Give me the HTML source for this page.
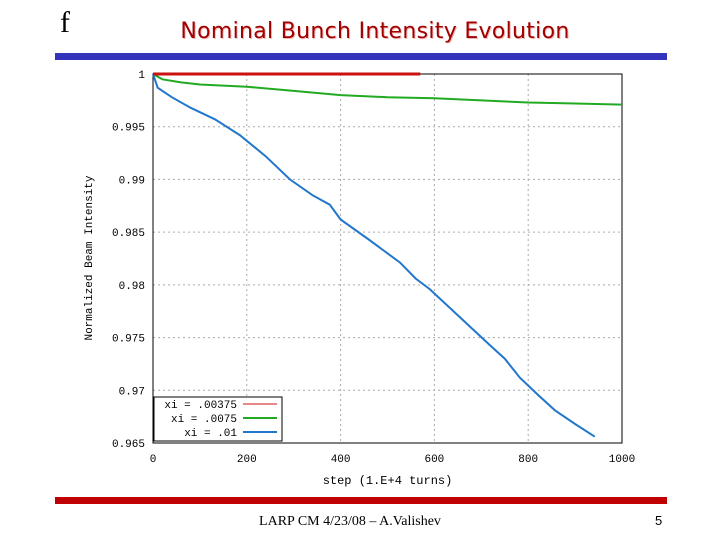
<!DOCTYPE html>
<html><head><meta charset="utf-8"><style>
body{margin:0;background:#fff;width:720px;height:540px;overflow:hidden;position:relative;font-family:"Liberation Sans",sans-serif}
.abs{position:absolute}
</style></head><body>
<div class="abs" style="left:60px;top:6px;font:30px 'Liberation Serif',serif;">f</div>
<div class="abs" style="left:150px;width:450px;top:19px;text-align:center;font:22px 'DejaVu Sans',sans-serif;color:#a00000;text-shadow:1px 1px 0 #f4b8b8;letter-spacing:0.3px">Nominal Bunch Intensity Evolution</div>
<div class="abs" style="left:55px;top:53px;width:612px;height:7px;background:#3333bb"></div>
<div class="abs" style="left:55px;top:497px;width:612px;height:7px;background:#c00000"></div>
<div class="abs" style="left:200px;width:300px;top:514px;text-align:center;font:14px 'Liberation Serif',serif;">LARP CM 4/23/08 – A.Valishev</div>
<div class="abs" style="left:655px;top:513px;font:13px 'Liberation Sans',sans-serif;">5</div>
<svg class="abs" style="left:0;top:0" width="720" height="540" id="chart"></svg>
<script>
const xTicks=[0,200,400,600,800,1000];
const yTicks=[1,0.995,0.99,0.985,0.98,0.975,0.97,0.965];
const yTickLabels=["1","0.995","0.99","0.985","0.98","0.975","0.97","0.965"];
const redSteps=[0,570];
const redVals=[1,1];
const greenSteps=[0,20,60,100,200,300,400,500,600,700,800,900,1000];
const greenVals=[1,0.9995,0.9992,0.999,0.9988,0.9984,0.9980,0.9978,0.9977,0.9975,0.9973,0.9972,0.9971];
const blueSteps=[0,10,40,80,132,185,240,292,340,377,400,460,527,560,590,650,718,750,782,820,857,900,942];
const blueVals=[1,0.9987,0.9978,0.9968,0.9957,0.9942,0.9922,0.990,0.9885,0.9876,0.9862,0.9843,0.9821,0.9806,0.9796,0.9771,0.9743,0.9730,0.9712,0.9696,0.9681,0.9668,0.9656];
const legendLabels=["xi = .00375","xi = .0075","xi = .01"];
const X0=153,X1=622,Y0=74,Y1=443;
const sx=v=>X0+(v-0)/(1000-0)*(X1-X0);
const sy=v=>Y0+(1-v)/(1-0.965)*(Y1-Y0);
const svg=document.getElementById('chart');
const NS='http://www.w3.org/2000/svg';
function mk(t,a,txt){const e=document.createElementNS(NS,t);for(const k in a)e.setAttribute(k,a[k]);if(txt!==undefined)e.textContent=txt;svg.appendChild(e);return e;}
const F='"Liberation Mono",monospace';
xTicks.forEach(v=>{const x=sx(v);
 if(v>0&&v<1000){const g=mk('line',{x1:x,y1:Y0,x2:x,y2:Y1,stroke:'#aaa','stroke-dasharray':'2,3'});
 }
 const t=mk('text',{x:x,y:Y1+19,'text-anchor':'middle','font-size':11,'font-family':F},String(v));
 });
yTicks.forEach((v,i)=>{const y=sy(v);
 if(i>0&&i<yTicks.length-1){const g=mk('line',{x1:X0,y1:y,x2:X1,y2:y,stroke:'#aaa','stroke-dasharray':'2,3'});
 }
 const t=mk('text',{x:X0-8,y:y+4,'text-anchor':'end','font-size':11,'font-family':F},yTickLabels[i]);
 });
const fr=mk('rect',{x:X0,y:Y0,width:X1-X0,height:Y1-Y0,fill:'none',stroke:'#000'});

const xl=mk('text',{x:(X0+X1)/2,y:484,'text-anchor':'middle','font-size':12,'font-family':F},'step (1.E+4 turns)');

const yl=mk('text',{x:0,y:0,transform:'translate(92,258) rotate(-90)','text-anchor':'middle','font-size':11,'font-family':F},'Normalized Beam Intensity');

function line(s,v,c,w,name){const d=s.map((x,i)=>(i?'L':'M')+sx(x).toFixed(1)+','+sy(v[i]).toFixed(1)).join('');
 const p=mk('path',{d:d,fill:'none',stroke:c,'stroke-width':w});
 }
line(greenSteps,greenVals,'#22aa22',2,'series-xi-0075');
line(blueSteps,blueVals,'#2277cc',2,'series-xi-01');
line(redSteps,redVals,'#cc1111',3,'series-xi-00375');
const lg=mk('rect',{x:X0+1,y:397,width:128,height:44,fill:'#fff',stroke:'#000'});

const cols=['#cc1111','#22aa22','#2277cc'];
legendLabels.forEach((l,i)=>{const y=408+i*14;
 const t=mk('text',{x:X0+84,y:y,'text-anchor':'end','font-size':11,'font-family':F},l);
 
 const s=mk('line',{x1:X0+90,y1:y-4,x2:X0+124,y2:y-4,stroke:cols[i],'stroke-width':i?2:1});
 });
</script>
</body></html>
